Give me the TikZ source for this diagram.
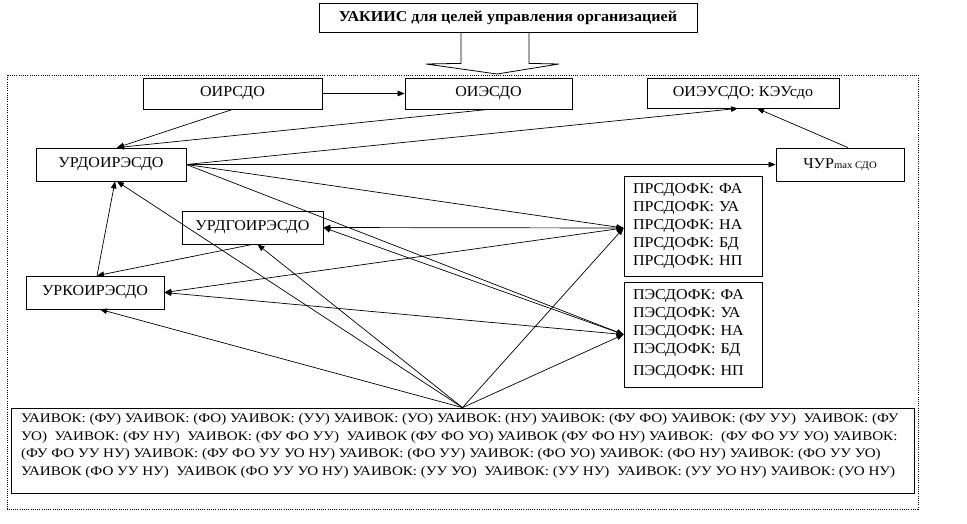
\documentclass[tikz,border=0pt]{standalone}
\usepackage{fontspec}
\setmainfont{Liberation Serif}[FakeStretch=1.07]
\newfontfamily\bottomfont{Liberation Serif}[FakeStretch=1.15]
\usetikzlibrary{arrows.meta,calc}
\begin{document}
\begin{tikzpicture}[x=1pt,y=-1pt,
  box/.style={draw,line width=0.8pt,inner sep=0pt,font=\fontsize{15}{18}\selectfont},
  ln/.style={line width=0.7pt},
  arr/.style={ln,-{Triangle[length=7pt,width=5.5pt]}},
  darr/.style={ln,{Triangle[length=7pt,width=5.5pt]}-{Triangle[length=7pt,width=5.5pt]}}]
\useasboundingbox (0,0) rectangle (967,523);
% outer dotted frame
\draw[line width=0.7pt,dash pattern=on 1pt off 1.2pt] (7,75) rectangle (918,509);
% title
\node[box,minimum width=378pt,minimum height=29pt,font=\fontsize{15}{18}\selectfont\bfseries] (title) at (508,17.5) {УАКИИС для целей управления организацией};
% hollow arrow
\coordinate (aL) at ($(title.south)+(-47,0)$);
\coordinate (aR) at ($(title.south)+(21,0)$);
\draw[line width=0.8pt] (aL) -- ++(0,31) -- (426,64) -- (497,74) -- (559,64) -- ($(aR)+(0,31)$) -- (aR);
% boxes
\node[box,minimum width=179pt,minimum height=31pt] (oirsdo) at (232.5,93.5) {ОИРСДО};
\node[box,minimum width=167pt,minimum height=31pt] (oiesdo) at (488.5,93.5) {ОИЭСДО};
\node[box,minimum width=192pt,minimum height=30pt] (oieusdo) at (743,93) {ОИЭУСДО: КЭУсдо};
\node[box,minimum width=150pt,minimum height=33pt] (urdo) at (111,164.5) {УРДОИРЭСДО};
\node[box,minimum width=128pt,minimum height=33pt] (chur) at (840,164.5) {ЧУР{\fontsize{10}{10}\selectfont max СДО}};
\node[box,minimum width=141pt,minimum height=33pt] (urdgo) at (252.5,227.5) {УРДГОИРЭСДО};
\node[box,minimum width=138pt,minimum height=33pt] (urko) at (95,292.5) {УРКОИРЭСДО};
\node[box,minimum width=138pt,minimum height=100pt,align=left,text width=120pt] (prs) at (693,226) {ПРСДОФК: ФА\\ПРСДОФК: УА\\ПРСДОФК: НА\\ПРСДОФК: БД\\ПРСДОФК: НП};
\node[box,minimum width=138pt,minimum height=105pt,align=left,text width=120pt] (pes) at (693,334.5) {ПЭСДОФК: ФА\\ПЭСДОФК: УА\\ПЭСДОФК: НА\\ПЭСДОФК: БД\\[4pt]ПЭСДОФК: НП};
\node[box,minimum width=903pt,minimum height=85pt] (bottom) at (462.5,450.5) {};
\node[anchor=north west,inner sep=0pt,align=left,font=\bottomfont\fontsize{13.1}{17.5}\selectfont] (btext) at (21,413.5) {%
УАИВОК: (ФУ) УАИВОК: (ФО) УАИВОК: (УУ) УАИВОК: (УО) УАИВОК: (НУ) УАИВОК: (ФУ ФО) УАИВОК: (ФУ УУ)\ \ УАИВОК: (ФУ\\
УО)\ \ УАИВОК: (ФУ НУ)\ \ УАИВОК: (ФУ ФО УУ)\ \ УАИВОК (ФУ ФО УО) УАИВОК (ФУ ФО НУ) УАИВОК:\ \ (ФУ ФО УУ УО) УАИВОК:\\
(ФУ ФО УУ НУ) УАИВОК: (ФУ ФО УУ УО НУ) УАИВОК: (ФО УУ) УАИВОК: (ФО УО) УАИВОК: (ФО НУ) УАИВОК: (ФО УУ УО)\\
УАИВОК (ФО УУ НУ)\ \ УАИВОК (ФО УУ УО НУ) УАИВОК: (УУ УО)\ \ УАИВОК: (УУ НУ)\ \ УАИВОК: (УУ УО НУ) УАИВОК: (УО НУ)};
% anchor points
\coordinate (urdoT) at ($(urdo.north)+(6,0)$);
\coordinate (urdoB1) at ($(urdo.south)+(4,0)$);
\coordinate (urdoB2) at ($(urdo.south)+(6,0)$);
\coordinate (oieuB1) at ($(oieusdo.south)+(-5,0)$);
\coordinate (oieuB2) at ($(oieusdo.south)+(14,0)$);
\coordinate (churN) at ($(chur.north)+(8,0)$);
\coordinate (prsW) at ($(prs.west)+(0,2)$);
\coordinate (pesW) at (pes.west);
\coordinate (urdgoB2) at ($(urdgo.south)+(5,0)$);
\coordinate (urkoN) at ($(urko.north)+(2,0)$);
\coordinate (urkoB) at ($(urko.south)+(5,0)$);
\coordinate (botT) at (bottom.north);
% connectors
\draw[arr] (oirsdo.east) -- (oiesdo.west);
\draw[arr] (oirsdo.south) -- (urdoT);
\draw[arr] (oiesdo.south) -- (urdoT);
\draw[arr] (urdo.east) -- (oieuB1);
\draw[arr] (churN) -- (oieuB2);
\draw[arr] (urdo.east) -- (chur.west);
\draw[arr] (urdo.east) -- (prsW);
\draw[arr] (urdo.east) -- (pesW);
\draw[darr] (urdgo.east) -- (prsW);
\draw[darr] (urdgo.east) -- (pesW);
\draw[arr] (urkoN) -- (urdoB1);
\draw[arr] (urdgo.south) -- (urkoN);
\draw[darr] (urko.east) -- (prsW);
\draw[darr] (urko.east) -- (pesW);
\draw[arr] (botT) -- (urkoB);
\draw[arr] (botT) -- (urdoB2);
\draw[arr] (botT) -- (urdgoB2);
\draw[arr] (botT) -- (prsW);
\draw[arr] (botT) -- (pesW);
\end{tikzpicture}
\end{document}
